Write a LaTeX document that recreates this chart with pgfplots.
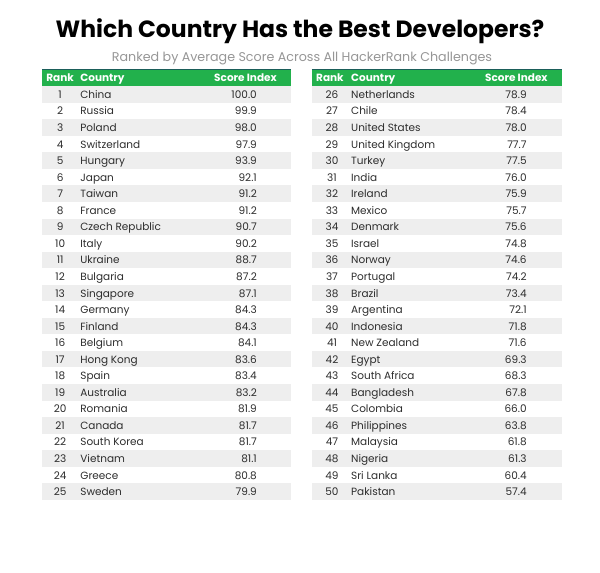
\documentclass[border=0pt]{standalone}
\usepackage{pgfplots}
\usepackage{pgfplotstable}
\pgfplotsset{compat=1.18}
\usepackage{fontspec}
\setmainfont{Poppins}[Numbers=Monospaced]
\definecolor{hdrgreen}{RGB}{34,177,76}
\definecolor{hdrline}{RGB}{27,94,90}
\definecolor{rowgray}{RGB}{238,238,238}
\definecolor{txt}{RGB}{45,45,45}
\definecolor{subgray}{RGB}{150,150,150}

\pgfplotstableread[col sep=comma]{
row,rank,country,score
1,1,China,100.0
2,2,Russia,99.9
3,3,Poland,98.0
4,4,Switzerland,97.9
5,5,Hungary,93.9
6,6,Japan,92.1
7,7,Taiwan,91.2
8,8,France,91.2
9,9,Czech Republic,90.7
10,10,Italy,90.2
11,11,Ukraine,88.7
12,12,Bulgaria,87.2
13,13,Singapore,87.1
14,14,Germany,84.3
15,15,Finland,84.3
16,16,Belgium,84.1
17,17,Hong Kong,83.6
18,18,Spain,83.4
19,19,Australia,83.2
20,20,Romania,81.9
21,21,Canada,81.7
22,22,South Korea,81.7
23,23,Vietnam,81.1
24,24,Greece,80.8
25,25,Sweden,79.9
}\lefttable

\pgfplotstableread[col sep=comma]{
row,rank,country,score
1,26,Netherlands,78.9
2,27,Chile,78.4
3,28,United States,78.0
4,29,United Kingdom,77.7
5,30,Turkey,77.5
6,31,India,76.0
7,32,Ireland,75.9
8,33,Mexico,75.7
9,34,Denmark,75.6
10,35,Israel,74.8
11,36,Norway,74.6
12,37,Portugal,74.2
13,38,Brazil,73.4
14,39,Argentina,72.1
15,40,Indonesia,71.8
16,41,New Zealand,71.6
17,42,Egypt,69.3
18,43,South Africa,68.3
19,44,Bangladesh,67.8
20,45,Colombia,66.0
21,46,Philippines,63.8
22,47,Malaysia,61.8
23,48,Nigeria,61.3
24,49,Sri Lanka,60.4
25,50,Pakistan,57.4
}\righttable

\def\rowh{16.56}
\def\top{86}
\def\bl{4.0}

\begin{document}
\begin{tikzpicture}
\begin{axis}[
  width=600pt,height=572pt,scale only axis,
  xmin=0,xmax=600,ymin=0,ymax=572,y dir=reverse,
  hide axis,clip=false,
  point meta=explicit symbolic,
  nodes near coords,
  every node near coord/.append style={inner sep=0pt,font=\fontsize{10.5}{12}\selectfont,text=txt},
]
\draw[white] (axis cs:0,0) rectangle (axis cs:600,572);
% row shading
\pgfplotsinvokeforeach{0,2,...,24}{
  \fill[rowgray] (axis cs:42,{\top+#1*\rowh}) rectangle (axis cs:291,{\top+(#1+1)*\rowh});
  \fill[rowgray] (axis cs:312,{\top+#1*\rowh}) rectangle (axis cs:562,{\top+(#1+1)*\rowh});
}
% headers
\fill[hdrgreen] (axis cs:42,69) rectangle (axis cs:291,86);
\fill[hdrgreen] (axis cs:312,69) rectangle (axis cs:562,86);
\draw[hdrline,line width=1pt] (axis cs:42,69) -- (axis cs:291,69);
\draw[hdrline,line width=1pt] (axis cs:312,69) -- (axis cs:562,69);
\begin{scope}[every node/.style={inner sep=0pt,text=white,font=\bfseries\fontsize{10.5}{12}\selectfont}]
\node[anchor=base west] at (axis cs:46,81.5) {Rank};
\node[anchor=base west] at (axis cs:80,81.5) {Country};
\node[anchor=base east] at (axis cs:277,81.5) {Score Index};
\node[anchor=base west] at (axis cs:316,81.5) {Rank};
\node[anchor=base west] at (axis cs:351,81.5) {Country};
\node[anchor=base east] at (axis cs:548,81.5) {Score Index};
\end{scope}
% title
\node[anchor=base,inner sep=0pt,font=\bfseries\fontsize{23.5}{26}\selectfont] at (axis cs:300,37) {Which Country Has the Best Developers?};
\node[anchor=base,inner sep=0pt,text=subgray,font=\fontsize{12.7}{15}\selectfont] at (axis cs:302,61) {Ranked by Average Score Across All HackerRank Challenges};

% left table
\addplot[mark=none,draw=none,nodes near coords style={anchor=base}] table[x expr=60,y expr={\top+(\thisrow{row}-0.5)*\rowh+\bl},meta=rank]{\lefttable};
\addplot[mark=none,draw=none,nodes near coords style={anchor=base west}] table[x expr=80,y expr={\top+(\thisrow{row}-0.5)*\rowh+\bl},meta=country]{\lefttable};
\addplot[mark=none,draw=none,nodes near coords style={anchor=base east}] table[x expr=257,y expr={\top+(\thisrow{row}-0.5)*\rowh+\bl},meta=score]{\lefttable};
% right table
\addplot[mark=none,draw=none,nodes near coords style={anchor=base}] table[x expr=332,y expr={\top+(\thisrow{row}-0.5)*\rowh+\bl},meta=rank]{\righttable};
\addplot[mark=none,draw=none,nodes near coords style={anchor=base west}] table[x expr=351,y expr={\top+(\thisrow{row}-0.5)*\rowh+\bl},meta=country]{\righttable};
\addplot[mark=none,draw=none,nodes near coords style={anchor=base east}] table[x expr=527,y expr={\top+(\thisrow{row}-0.5)*\rowh+\bl},meta=score]{\righttable};
\end{axis}
\end{tikzpicture}
\end{document}
